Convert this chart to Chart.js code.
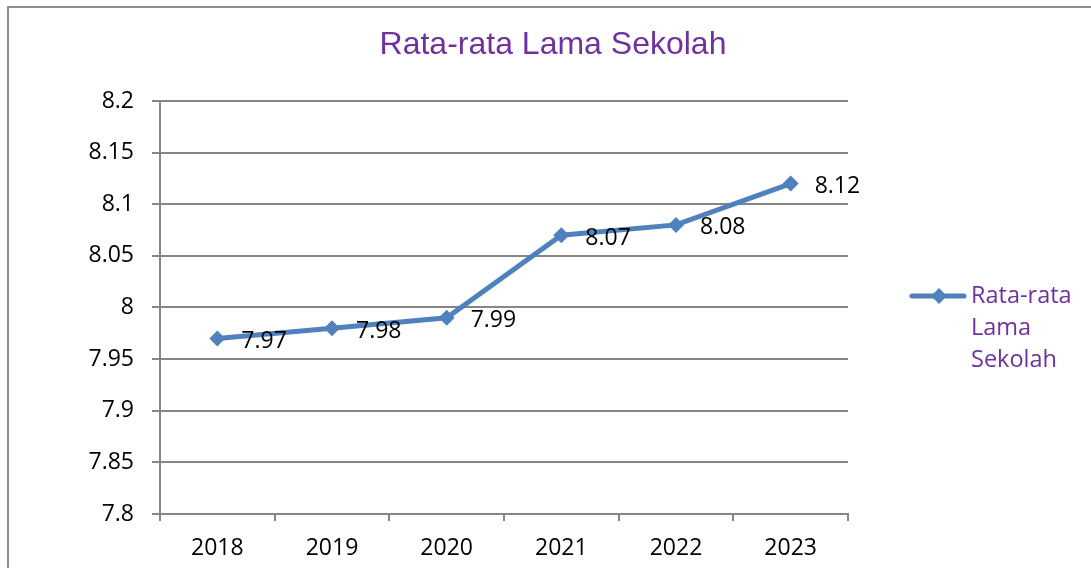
<!DOCTYPE html>
<html>
<head>
<meta charset="utf-8">
<script src="https://cdn.jsdelivr.net/npm/chart.js@4/dist/chart.umd.min.js"></script>
<style>
  html, body { margin: 0; padding: 0; background: #fff; }
  #wrap { width: 1091px; height: 568px; position: relative; }
</style>
</head>
<body>
<div id="wrap"><canvas id="c" width="1091" height="568"></canvas></div>
<script>
const titleText = 'Rata-rata Lama Sekolah';
const categories = ['2018', '2019', '2020', '2021', '2022', '2023'];
const seriesName = 'Rata-rata Lama Sekolah';
const legendLines = ['Rata-rata', 'Lama', 'Sekolah'];
const values = [7.97, 7.98, 7.99, 8.07, 8.08, 8.12];
const valueLabels = ['7.97', '7.98', '7.99', '8.07', '8.08', '8.12'];
const yTickLabels = ['7.8', '7.85', '7.9', '7.95', '8', '8.05', '8.1', '8.15', '8.2'];

const FONT = "'Open Sans', 'Liberation Sans', sans-serif";
const LINE = '#4F81BD';
const GRID = '#868686';
const PURPLE = '#7030A0';

const decor = {
  id: 'decor',
  beforeDraw(chart) {
    const ctx = chart.ctx;
    ctx.save();
    ctx.fillStyle = '#fff';
    ctx.fillRect(0, 0, chart.width, chart.height);
    ctx.strokeStyle = '#8c8c8c';
    ctx.lineWidth = 2;
    ctx.strokeRect(8, 7, 1200, 700);
    ctx.restore();
  },
  afterDraw(chart) {
    const ctx = chart.ctx;
    ctx.save();
    // title
    ctx.fillStyle = PURPLE;
    ctx.font = "32px 'Liberation Sans', Arial, sans-serif";
    ctx.textAlign = 'center';
    ctx.textBaseline = 'middle';
    ctx.fillText(titleText, 553, 45);
    // data labels
    const meta = chart.getDatasetMeta(0);
    ctx.fillStyle = '#000';
    ctx.font = '23px ' + FONT;
    ctx.textAlign = 'left';
    ctx.textBaseline = 'middle';
    meta.data.forEach((pt, i) => {
      ctx.fillText(valueLabels[i], pt.x + 24, pt.y + 3);
    });
    // legend
    const ly = 296;
    ctx.strokeStyle = LINE;
    ctx.lineWidth = 5;
    ctx.lineCap = 'round';
    ctx.beginPath();
    ctx.moveTo(912, ly);
    ctx.lineTo(964, ly);
    ctx.stroke();
    ctx.fillStyle = LINE;
    ctx.beginPath();
    const r = 8;
    ctx.moveTo(939, ly - r);
    ctx.lineTo(939 + r, ly);
    ctx.lineTo(939, ly + r);
    ctx.lineTo(939 - r, ly);
    ctx.closePath();
    ctx.fill();
    ctx.fillStyle = PURPLE;
    ctx.font = '23.5px ' + FONT;
    ctx.textAlign = 'left';
    ctx.textBaseline = 'middle';
    legendLines.forEach((t, i) => ctx.fillText(t, 971, ly + i * 32));
    ctx.restore();
  }
};

new Chart(document.getElementById('c'), {
  type: 'line',
  data: {
    labels: categories,
    datasets: [{
      label: seriesName,
      data: values,
      borderColor: LINE,
      backgroundColor: LINE,
      borderWidth: 5,
      pointStyle: 'rectRot',
      pointRadius: 8,
      pointHoverRadius: 8,
      pointBorderWidth: 0,
      pointBackgroundColor: LINE,
      tension: 0
    }]
  },
  options: {
    responsive: false,
    animation: false,
    events: [],
    layout: { padding: { top: 101, right: 243, left: 0, bottom: 0 } },
    plugins: {
      legend: { display: false },
      title: { display: false },
      tooltip: { enabled: false }
    },
    scales: {
      x: {
        type: 'category',
        offset: true,
        grid: {
          offset: true,
          drawOnChartArea: false,
          drawTicks: true,
          tickLength: 7,
          color: GRID,
          lineWidth: 2
        },
        border: { display: true, color: GRID, width: 2 },
        ticks: {
          color: '#000',
          font: { family: FONT, size: 23 },
          padding: 14,
          maxRotation: 0
        },
        afterFit(s) { s.height = 54; }
      },
      y: {
        min: 7.8,
        max: 8.2,
        grid: {
          color: GRID,
          lineWidth: 2,
          drawTicks: true,
          tickLength: 8
        },
        border: { display: true, color: GRID, width: 2 },
        ticks: {
          stepSize: 0.05,
          color: '#000',
          font: { family: FONT, size: 23 },
          padding: 18,
          callback(v, i) { return yTickLabels[i]; }
        },
        afterFit(s) { s.width = 160; }
      }
    }
  },
  plugins: [decor]
});
</script>
</body>
</html>
